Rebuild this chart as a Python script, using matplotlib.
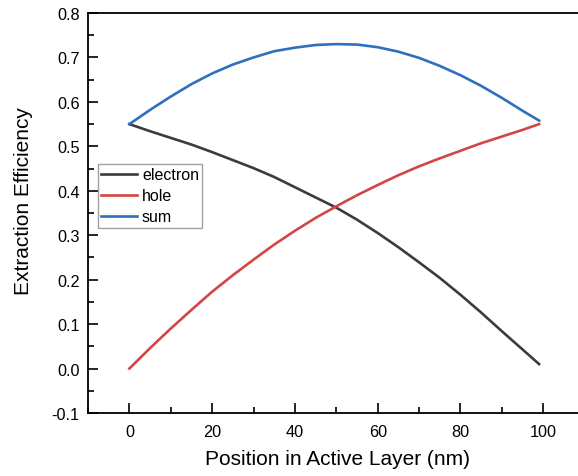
import numpy as np
import matplotlib
matplotlib.use('Agg')
import matplotlib.pyplot as plt
from matplotlib.ticker import MultipleLocator, FormatStrFormatter

plt.rcParams['font.family'] = ['Liberation Sans', 'DejaVu Sans']

# positions in the active layer (nm)
position = [0, 5, 10, 15, 20, 25, 30, 35, 40, 45, 50, 55, 60, 65, 70, 75, 80, 85, 90, 95, 99]
electron = [0.55, 0.534, 0.519, 0.504, 0.487, 0.469, 0.451, 0.431, 0.408, 0.385, 0.362,
            0.335, 0.305, 0.273, 0.239, 0.204, 0.166, 0.126, 0.084, 0.043, 0.01]
hole = [0.0, 0.046, 0.09, 0.132, 0.173, 0.21, 0.245, 0.279, 0.31, 0.339, 0.365,
        0.39, 0.413, 0.435, 0.455, 0.473, 0.49, 0.507, 0.522, 0.537, 0.55]
total = [0.55, 0.582, 0.612, 0.64, 0.664, 0.684, 0.70, 0.714, 0.722, 0.728, 0.73,
         0.729, 0.723, 0.713, 0.699, 0.681, 0.66, 0.636, 0.609, 0.58, 0.558]

fig = plt.figure(figsize=(5.78, 4.77), dpi=100)
# right edge runs a bit past the image, like the cropped original
ax = fig.add_axes([88 / 578, 1 - 414 / 477, 1 - 88 / 578 + 0.02, 400 / 477])

ax.plot(position, electron, color='#3c3c3c', lw=1.9, label='electron')
ax.plot(position, hole, color='#d44545', lw=1.9, label='hole')
ax.plot(position, total, color='#2f6fbd', lw=1.9, label='sum')

ax.set_xlim(-10, 108.4 + 0.02 * 578 / 4.14)
ax.set_ylim(-0.1, 0.8)
ax.xaxis.set_minor_locator(MultipleLocator(10))
ax.yaxis.set_major_locator(MultipleLocator(0.1))
ax.yaxis.set_minor_locator(MultipleLocator(0.05))
ax.yaxis.set_major_formatter(FormatStrFormatter('%.1f'))
ax.set_xticks([0, 20, 40, 60, 80, 100])

ax.tick_params(which='major', direction='in', length=7, width=1.2, labelsize=11.7, pad=8)
ax.tick_params(which='minor', direction='in', length=4, width=1.2)
ax.tick_params(axis='y', pad=6)
for side in ['left', 'bottom', 'top']:
    ax.spines[side].set_linewidth(1.3)
ax.spines['right'].set_visible(False)

ax.set_xlabel('Position in Active Layer (nm)', fontsize=15)
ax.set_ylabel('Extraction Efficiency', fontsize=15)
ax.xaxis.set_label_coords(0.497, -0.09)
ax.yaxis.set_label_coords(-0.11, 0.5325)

leg = ax.legend(loc='upper left', bbox_to_anchor=(0.02, 0.6225), fontsize=11.5,
                frameon=True, fancybox=False, edgecolor='#888888',
                handlelength=2.25, handletextpad=0.3, labelspacing=0.38,
                borderpad=0.2, borderaxespad=0)
leg.get_frame().set_linewidth(1.0)

fig.savefig('out.png', dpi=100)
